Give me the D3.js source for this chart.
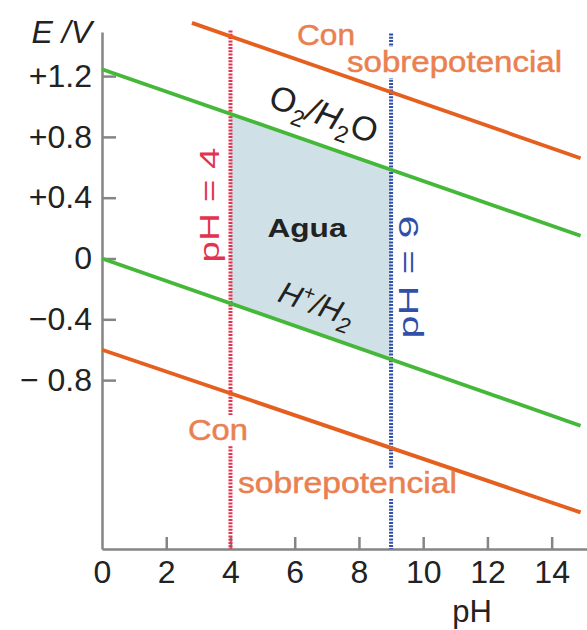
<!DOCTYPE html>
<html>
<head>
<meta charset="utf-8">
<script src="https://cdn.jsdelivr.net/npm/d3@7"></script>
<style>
  body { margin: 0; background: #fff; }
  svg { display: block; font-family: "Liberation Sans", Arial, sans-serif; }
  .axis path, .axis line { stroke: #858585; stroke-width: 2.5; }
  .axis text { font-size: 32px; fill: #222; font-family: "Liberation Sans", Arial, sans-serif; }
</style>
</head>
<body>
<div class="chart"></div>
<script>
// pH axis and potential axis
const phTicks = [0, 2, 4, 6, 8, 10, 12, 14];
const eTicks = [1.2, 0.8, 0.4, 0, -0.4, -0.8];
const eTickLabels = ["+1.2", "+0.8", "+0.4", "0", "\u22120.4", "\u2212 0.8"];

// lines as [pH, E] end points
const o2Line = [[0, 1.245], [14.9, 0.15]];
const h2Line = [[0, 0.0], [14.9, -1.1]];
const overTop = [[2.8, 1.55], [14.9, 0.66]];
const overBottom = [[0, -0.6], [14.9, -1.67]];

// the two pH limits and the top of their dotted lines
const phLimits = [4, 9];
const phLimitTop = [1.5, 1.48];

const w = 587, h = 630;

let xScale = d3.scaleLinear().domain([0, 15.1]).range([102, 587]);
let yScale = d3.scaleLinear().domain([-1.911, 1.49]).range([549, 32]);

let line = d3.line()
  .x(d => xScale(d[0]))
  .y(d => yScale(d[1]));

// E on a straight line at a given pH
const eAt = (l, ph) => l[0][1] + (l[1][1] - l[0][1]) * (ph - l[0][0]) / (l[1][0] - l[0][0]);

let svg = d3.select(".chart").append("svg")
  .attr("width", w)
  .attr("height", h);

// water region
let region = [
  [phLimits[0], eAt(o2Line, phLimits[0])],
  [phLimits[1], eAt(o2Line, phLimits[1])],
  [phLimits[1], eAt(h2Line, phLimits[1])],
  [phLimits[0], eAt(h2Line, phLimits[0])]
];
svg.append("path")
  .datum(region)
  .attr("d", line.curve(d3.curveLinearClosed))
  .attr("fill", "#cfe1e7");
line.curve(d3.curveLinear);

// axes
svg.append("g")
  .attr("class", "y axis")
  .attr("transform", "translate(" + xScale(0) + ",0)")
  .call(d3.axisLeft(yScale)
    .tickValues(eTicks)
    .tickSizeInner(-14)
    .tickSizeOuter(0)
    .tickPadding(10)
    .tickFormat((d, i) => eTickLabels[i]));

svg.append("g")
  .attr("class", "x axis")
  .attr("transform", "translate(0," + yScale.range()[0] + ")")
  .call(d3.axisBottom(xScale)
    .tickValues(phTicks)
    .tickSizeInner(-12)
    .tickSizeOuter(0)
    .tickPadding(11));

svg.selectAll(".x.axis .tick line").filter(d => d === 0).remove();

// pH limits, dotted
const limitColors = ["#e2334f", "#2f4fa8"];
phLimits.forEach((p, i) => {
  svg.append("line")
    .attr("x1", xScale(p)).attr("x2", xScale(p))
    .attr("y1", yScale(phLimitTop[i])).attr("y2", yScale.range()[0])
    .attr("stroke", limitColors[i])
    .attr("stroke-width", 4)
    .attr("stroke-dasharray", "2,1.3");
});

// overpotential labels (white box behind them hides the dotted lines)
const orange = "#ea8050";
const boxes = svg.append("g");
const lineLayer = svg.append("g");
[[297, 45, 58, "Con"], [347, 72, 215, "sobrepotencial"],
 [188, 440, 60, "Con"], [238, 493, 219, "sobrepotencial"]].forEach(t => {
  let txt = svg.append("text")
    .attr("x", t[0]).attr("y", t[1])
    .attr("font-size", 30)
    .attr("fill", orange)
    .attr("stroke", orange)
    .attr("stroke-width", 0.5)
    .attr("textLength", t[2])
    .attr("lengthAdjust", "spacingAndGlyphs")
    .text(t[3]);
  let bb = txt.node().getBBox();
  boxes.append("rect")
    .attr("x", bb.x - 3).attr("y", bb.y + 2)
    .attr("width", bb.width + 6).attr("height", bb.height - 2)
    .attr("fill", "#fff");
});

// sloped lines
const lineColors = ["#e5601f", "#45b83a", "#45b83a", "#e5601f"];
[overTop, o2Line, h2Line, overBottom].forEach((l, i) => {
  lineLayer.append("path")
    .datum(l)
    .attr("d", line)
    .attr("fill", "none")
    .attr("stroke", lineColors[i])
    .attr("stroke-width", 3.8);
});

// pH = 4 / pH = 9 labels
svg.append("text")
  .attr("transform", "translate(219,205) rotate(-90)")
  .attr("text-anchor", "middle")
  .attr("font-size", 27)
  .attr("fill", "#e2334f")
  .attr("textLength", 115)
  .attr("lengthAdjust", "spacingAndGlyphs")
  .text("pH = " + phLimits[0]);

svg.append("text")
  .attr("transform", "translate(418,277) rotate(-90)")
  .attr("text-anchor", "middle")
  .attr("font-size", 27)
  .attr("fill", "#2f4fa8")
  .attr("textLength", 123)
  .attr("lengthAdjust", "spacingAndGlyphs")
  .text("pH = " + phLimits[1]);

// couple labels
const slope = -19.5;
let o2 = svg.append("text")
  .attr("transform", "translate(320,125) rotate(" + (-slope) + ")")
  .attr("text-anchor", "middle")
  .attr("font-size", 34)
  .attr("fill", "#222");
o2.append("tspan").text("O");
o2.append("tspan").attr("font-size", 23).attr("dy", 9).text("2");
o2.append("tspan").attr("dy", -9).attr("font-style", "italic").text("/H");
o2.append("tspan").attr("font-size", 23).attr("dy", 9).text("2");
o2.append("tspan").attr("dy", -9).text("O");

let h2 = svg.append("text")
  .attr("transform", "translate(313,314) rotate(" + (-slope) + ")")
  .attr("text-anchor", "middle")
  .attr("font-size", 31)
  .attr("font-style", "italic")
  .attr("fill", "#222");
h2.append("tspan").text("H");
h2.append("tspan").attr("font-size", 20).attr("dy", -12).text("+");
h2.append("tspan").attr("dy", 12).text("/H");
h2.append("tspan").attr("font-size", 22).attr("dy", 8).text("2");

svg.append("text")
  .attr("x", 307).attr("y", 237)
  .attr("text-anchor", "middle")
  .attr("font-size", 25)
  .attr("font-weight", "bold")
  .attr("fill", "#222")
  .attr("textLength", 79)
  .attr("lengthAdjust", "spacingAndGlyphs")
  .text("Agua");

// axis titles
svg.append("text")
  .attr("x", 92).attr("y", 43)
  .attr("text-anchor", "end")
  .attr("font-size", 32)
  .attr("font-style", "italic")
  .attr("fill", "#222")
  .text("E /V");

svg.append("text")
  .attr("x", 472).attr("y", 622)
  .attr("text-anchor", "middle")
  .attr("font-size", 31)
  .attr("fill", "#222")
  .text("pH");
</script>
</body>
</html>
